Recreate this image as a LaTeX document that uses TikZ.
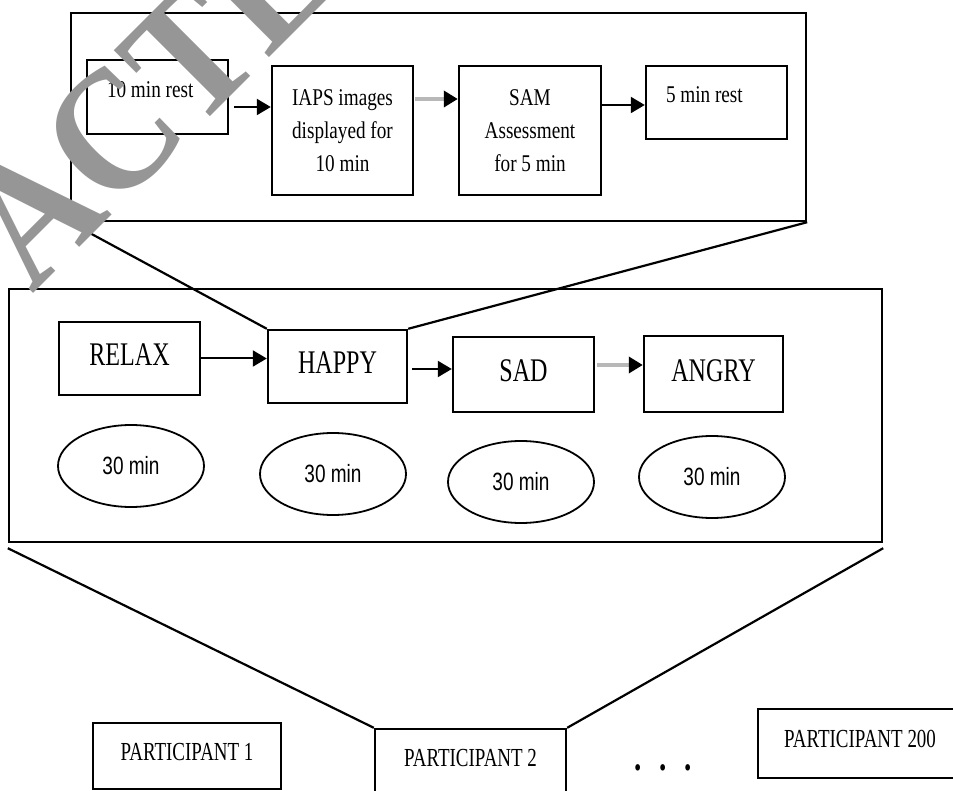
\documentclass[tikz,border=0pt]{standalone}
\usepackage{fontspec}
\newfontfamily\topfont{Liberation Serif}[FakeStretch=0.8]
\newfontfamily\boxfont{Liberation Serif}[FakeStretch=0.73]
\newfontfamily\ovalfont{Liberation Sans}[FakeStretch=0.76]
\newfontfamily\markfont{Liberation Serif}[FakeStretch=0.9]
\usetikzlibrary{shapes.geometric,arrows.meta}
\definecolor{markgray}{gray}{0.59}
\definecolor{shaftgray}{gray}{0.72}

\begin{document}
\begin{tikzpicture}[x=1pt,y=-1pt,
  frame/.style={draw, line width=2.4pt, inner sep=0pt},
  box/.style={draw, line width=2.4pt, inner sep=0pt, align=center},
  topbox/.style={box, font=\topfont\fontsize{24}{33}\selectfont},
  midbox/.style={box, font=\boxfont\fontsize{33}{38}\selectfont, minimum width=141pt, text depth=7pt},
  partbox/.style={box, font=\boxfont\fontsize{26}{30}\selectfont, text depth=9pt},
  oval/.style={draw, ellipse, line width=1.8pt, minimum width=146pt, minimum height=82pt, inner sep=0pt, font=\ovalfont\fontsize{25}{28}\selectfont},
  flow/.style={line width=2pt, -{Triangle[length=14pt,width=16pt]}},
  grayflow/.style={line width=4pt, shaftgray, -{Triangle[length=14pt,width=16pt,color=black]}},
  zoomline/.style={line width=2.2pt}]

\fill[white] (0,0) rectangle (953,791);
\useasboundingbox (0,0) rectangle (953,791);

% one session, zoomed in
\node[frame, minimum width=735pt, minimum height=208pt] (session) at (438.5,117) {};
\node[box, minimum width=141pt, minimum height=74pt] (rest1) at (157.5,97) {};
\node[topbox, draw=none, anchor=north west] (rest1txt) at ([xshift=20pt,yshift=-22pt]rest1.north west) {10 min rest};
\node[topbox, minimum width=141pt, minimum height=129pt] (iaps) at (342.5,130.5) {IAPS images\\displayed for\\10 min};
\node[topbox, minimum width=142pt, minimum height=129pt] (sam) at (530,130.5) {SAM\\Assessment\\for 5 min};
\node[box, minimum width=141pt, minimum height=73pt] (rest2) at (716.5,102.5) {};
\node[topbox, draw=none, anchor=north west] (rest2txt) at ([xshift=20pt,yshift=-21pt]rest2.north west) {5 min rest};

\draw[flow] ([xshift=5pt,yshift=-10pt]rest1.east) -- ([yshift=-10pt]rest1.east -| iaps.west);
\draw[grayflow] ([xshift=1pt,yshift=31.5pt]iaps.east) -- ([yshift=31.5pt]iaps.east -| sam.west);
\draw[flow] ([yshift=25.5pt]sam.east) -- ([yshift=25.5pt]sam.east -| rest2.west);

% the four emotions
\node[frame, minimum width=873pt, minimum height=253pt] (emotions) at (445.5,415.5) {};
\node[midbox, minimum height=73pt] (relax) at (129.5,358.5) {RELAX};
\node[midbox, minimum width=139pt, minimum height=73pt] (happy) at (337.5,366.5) {HAPPY};
\node[midbox, minimum height=75pt] (sad) at (523.5,374.5) {SAD};
\node[midbox, minimum width=139pt, minimum height=76pt] (angry) at (713.5,374) {ANGRY};

\draw[flow] (relax.east) -- (relax.east -| happy.west);
\draw[flow] ([xshift=4pt,yshift=-2.5pt]happy.east) -- ([yshift=-2.5pt]happy.east -| sad.west);
\draw[grayflow] ([xshift=2pt,yshift=9.5pt]sad.east) -- ([yshift=9.5pt]sad.east -| angry.west);

\foreach \n/\x/\y in {1/131/466, 2/333/474, 3/521/482, 4/712/477}
  \node[oval] (time\n) at (\x,\y) {30 min};

% participants
\node[partbox, minimum width=188pt, minimum height=66pt] (part1) at (187,756) {PARTICIPANT 1};
\node[partbox, minimum width=191pt, minimum height=66pt] (part2) at (470.5,762) {PARTICIPANT 2};
\node[partbox, minimum width=204pt, minimum height=69pt] (part200) at (860,743.5) {PARTICIPANT 200};
\node[anchor=base, inner sep=0pt, font=\boxfont\bfseries\fontsize{40}{40}\selectfont] (dots) at (663,770.5) {.\hspace{17.7pt}.\hspace{17.7pt}.};

\draw[zoomline] (session.south west) -- (happy.north west);
\draw[zoomline] (session.south east) -- (happy.north east);
\draw[zoomline] ([yshift=-5pt]emotions.south west) -- (part2.north west);
\draw[zoomline] ([yshift=-5pt]emotions.south east) -- (part2.north east);

% watermark
\node[markgray, anchor=base west, inner sep=0pt, rotate=45, font=\markfont\bfseries\fontsize{175}{175}\selectfont] (stamp) at (32.3,294.8) {ACTE};

\end{tikzpicture}
\end{document}
